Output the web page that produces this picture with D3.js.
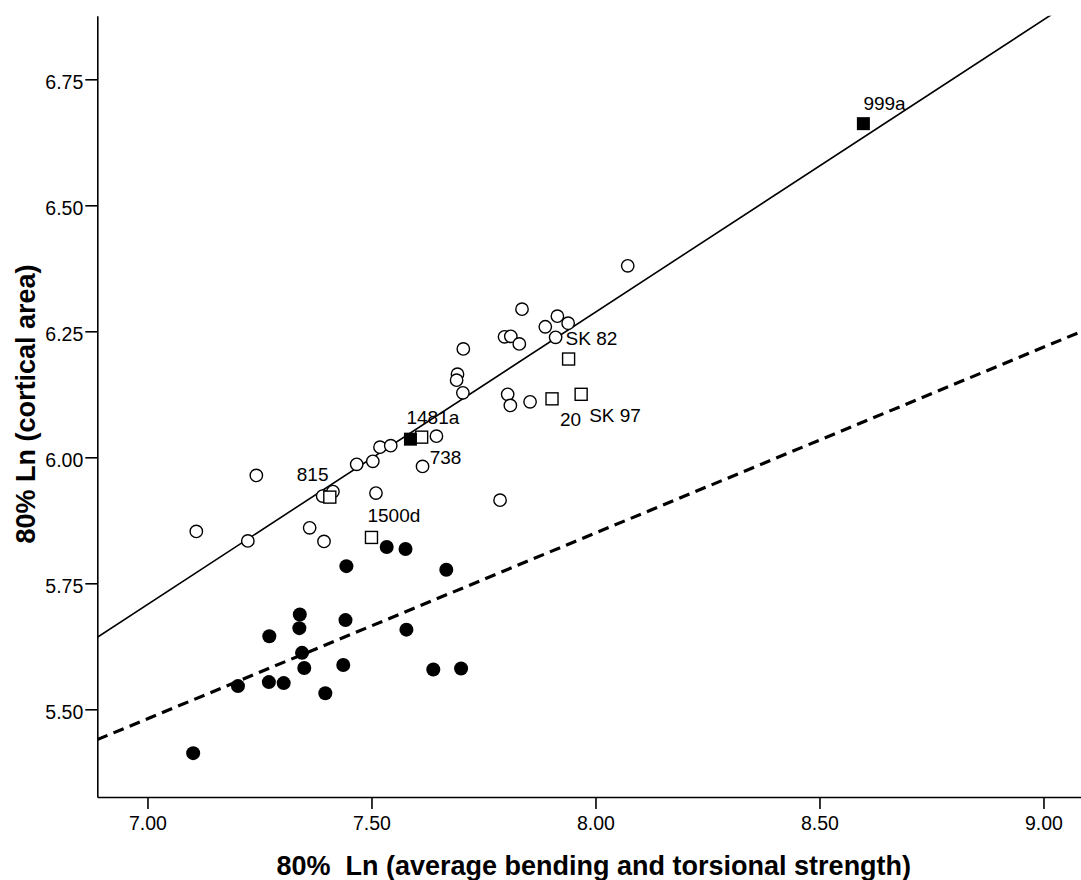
<!DOCTYPE html>
<html>
<head>
<meta charset="utf-8">
<script src="https://cdn.jsdelivr.net/npm/d3@7"></script>
<style>
  html, body { margin: 0; padding: 0; background: #fff; }
  svg { display: block; }
</style>
</head>
<body>
<svg id="chart" width="1081" height="880"></svg>
<script>
// ---- data ----
const xTicks = [7.00, 7.50, 8.00, 8.50, 9.00];
const yTicks = [5.50, 5.75, 6.00, 6.25, 6.50, 6.75];

// open circles: [x, y]
const openCircles = [
  [7.109, 5.853], [7.243, 5.964], [7.224, 5.834], [7.362, 5.860], [7.394, 5.833],
  [7.391, 5.923], [7.414, 5.932], [7.467, 5.986], [7.503, 5.992], [7.510, 5.929],
  [7.519, 6.020], [7.543, 6.023], [7.645, 6.042], [7.614, 5.982], [7.705, 6.215],
  [7.692, 6.165], [7.690, 6.153], [7.704, 6.128], [7.787, 5.915], [8.072, 6.380],
  [7.836, 6.294], [7.915, 6.280], [7.939, 6.266], [7.888, 6.259], [7.797, 6.239],
  [7.811, 6.240], [7.830, 6.225], [7.911, 6.238], [7.804, 6.125], [7.810, 6.103],
  [7.854, 6.110]
];

// filled circles: [x, y]
const filledCircles = [
  [7.534, 5.822], [7.576, 5.818], [7.444, 5.784], [7.667, 5.777], [7.340, 5.688],
  [7.339, 5.661], [7.272, 5.645], [7.442, 5.677], [7.578, 5.658], [7.345, 5.612],
  [7.350, 5.582], [7.437, 5.588], [7.638, 5.579], [7.700, 5.581], [7.202, 5.546],
  [7.271, 5.554], [7.304, 5.552], [7.397, 5.532], [7.102, 5.413]
];

// open squares: [x, y, label]
const openSquares = [
  [7.407, 5.921, "815"], [7.612, 6.040, "738"], [7.500, 5.841, "1500d"],
  [7.940, 6.195, "SK 82"], [7.903, 6.116, "20"], [7.968, 6.125, "SK 97"]
];

// filled squares: [x, y, label]
const filledSquares = [
  [8.598, 6.662, "999a"], [7.587, 6.036, "1481a"]
];

// fit lines: [intercept, slope]
const fitSolid = [1.648, 0.580];
const fitDashed = [2.901, 0.3686];

const xTitle = "80%  Ln (average bending and torsional strength)";
const yTitle = "80% Ln (cortical area)";

// ---- layout ----
const plotLeft = 97.3, plotBottom = 797;
const xDomain = [6.888, 9.105];
const yDomain = [5.326, 6.876];

const x = d3.scaleLinear().domain(xDomain).range([plotLeft, plotLeft + (xDomain[1] - xDomain[0]) * 448]);
const y = d3.scaleLinear().domain(yDomain).range([plotBottom, plotBottom - (yDomain[1] - yDomain[0]) * 504]);

const svg = d3.select("#chart");
const font = "'Liberation Sans', Arial, Helvetica, sans-serif";

svg.append("defs").append("clipPath").attr("id", "plotclip")
  .append("rect")
  .attr("x", x(xDomain[0])).attr("y", y(yDomain[1]))
  .attr("width", x(xDomain[1]) - x(xDomain[0]))
  .attr("height", y(yDomain[0]) - y(yDomain[1]));

// axes
const xAxis = d3.axisBottom(x).tickValues(xTicks).tickFormat(d3.format(".2f"))
  .tickSize(12).tickSizeOuter(0).tickPadding(7);
const yAxis = d3.axisLeft(y).tickValues(yTicks).tickFormat(d3.format(".2f"))
  .tickSize(12).tickSizeOuter(0).tickPadding(2);

const gx = svg.append("g").attr("transform", `translate(0,${plotBottom})`).call(xAxis);
const gy = svg.append("g").attr("transform", `translate(${plotLeft},0)`).call(yAxis);

[gx, gy].forEach(g => {
  g.select(".domain").attr("stroke", "#000").attr("stroke-width", 1.6);
  g.selectAll(".tick line").attr("stroke", "#000").attr("stroke-width", 1.6);
  g.selectAll(".tick text").attr("fill", "#000")
    .style("font-family", font).style("font-size", "19.5px");
});
gy.selectAll(".tick text").attr("dy", "0.45em");

// fit lines
const plot = svg.append("g").attr("clip-path", "url(#plotclip)");
function fitPath(f) {
  return d3.line().x(d => x(d)).y(d => y(f[0] + f[1] * d))(xDomain);
}
plot.append("path").attr("d", fitPath(fitSolid))
  .attr("fill", "none").attr("stroke", "#000").attr("stroke-width", 1.6);
plot.append("path").attr("d", fitPath(fitDashed))
  .attr("fill", "none").attr("stroke", "#000").attr("stroke-width", 3.2)
  .attr("stroke-dasharray", "11,6.5");

// markers
plot.selectAll(".oc").data(openCircles).join("circle")
  .attr("cx", d => x(d[0])).attr("cy", d => y(d[1])).attr("r", 6.2)
  .attr("fill", "#fff").attr("stroke", "#000").attr("stroke-width", 1.4);

plot.selectAll(".fc").data(filledCircles).join("circle")
  .attr("cx", d => x(d[0])).attr("cy", d => y(d[1])).attr("r", 7)
  .attr("fill", "#000");

const osz = 12;
plot.selectAll(".os").data(openSquares).join("rect")
  .attr("x", d => x(d[0]) - osz / 2).attr("y", d => y(d[1]) - osz / 2)
  .attr("width", osz).attr("height", osz)
  .attr("fill", "#fff").attr("stroke", "#000").attr("stroke-width", 1.4);

const fsz = 13;
plot.selectAll(".fs").data(filledSquares).join("rect")
  .attr("x", d => x(d[0]) - fsz / 2).attr("y", d => y(d[1]) - fsz / 2)
  .attr("width", fsz).attr("height", fsz)
  .attr("fill", "#000");

// point labels (offset from the point, in px)
const labelOffset = {
  "999a": [0, -14], "1481a": [-4, -15], "738": [8, 27], "815": [-33, -16],
  "1500d": [-4, -15], "SK 82": [-3, -14], "20": [8, 27], "SK 97": [8, 28]
};
svg.append("g").selectAll("text").data(openSquares.concat(filledSquares)).join("text")
  .attr("x", d => x(d[0]) + labelOffset[d[2]][0])
  .attr("y", d => y(d[1]) + labelOffset[d[2]][1])
  .attr("fill", "#000")
  .style("font-family", font).style("font-size", "19px")
  .text(d => d[2]);

// axis titles
svg.append("text")
  .attr("x", 276.5).attr("y", 875)
  .attr("fill", "#000")
  .style("font-family", font).style("font-size", "27px").style("font-weight", "bold")
  .style("white-space", "pre")
  .text(xTitle);

svg.append("text")
  .attr("transform", `translate(35,404) rotate(-90)`)
  .attr("text-anchor", "middle")
  .attr("fill", "#000")
  .style("font-family", font).style("font-size", "27px").style("font-weight", "bold")
  .text(yTitle);
</script>
</body>
</html>
